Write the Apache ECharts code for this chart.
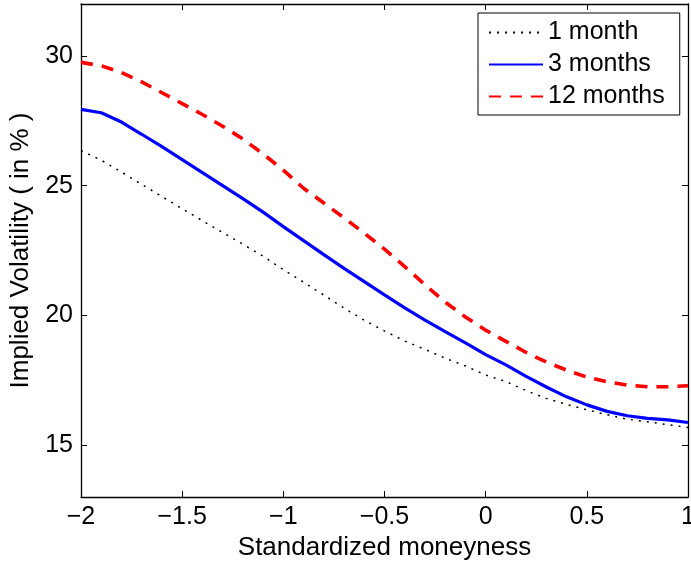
<!DOCTYPE html>
<html>
<head>
<meta charset="utf-8">
<script src="https://cdn.jsdelivr.net/npm/echarts@6/dist/echarts.min.js"></script>
<style>
  html, body { margin: 0; padding: 0; background: #fff; }
  #chart { width: 691px; height: 561px; }
</style>
</head>
<body>
<div id="chart"></div>
<script>
// moneyness grid (x)
const moneyness = [-2, -1.9, -1.8, -1.7, -1.6, -1.5, -1.4, -1.3, -1.2, -1.1, -1, -0.9, -0.8, -0.7, -0.6, -0.5, -0.4, -0.3, -0.2, -0.1, 0, 0.1, 0.2, 0.3, 0.4, 0.5, 0.6, 0.7, 0.8, 0.9, 1]

// implied vol (%)
const vol1m = [26.35, 25.98, 25.52, 25.05, 24.58, 24.11, 23.65, 23.19, 22.74, 22.28, 21.76, 21.28, 20.78, 20.28, 19.81, 19.4, 19.01, 18.69, 18.35, 18.05, 17.7, 17.45, 17.1, 16.8, 16.57, 16.36, 16.17, 16.0, 15.9, 15.79, 15.68]
const vol3m = [27.94, 27.81, 27.45, 26.98, 26.5, 26.0, 25.5, 25.0, 24.5, 23.98, 23.42, 22.88, 22.34, 21.81, 21.3, 20.79, 20.29, 19.82, 19.37, 18.94, 18.49, 18.09, 17.65, 17.24, 16.86, 16.55, 16.3, 16.13, 16.03, 15.97, 15.87]
const vol12m = [29.75, 29.62, 29.36, 29.0, 28.58, 28.16, 27.74, 27.29, 26.8, 26.22, 25.6, 24.9, 24.33, 23.76, 23.17, 22.55, 21.88, 21.18, 20.51, 19.94, 19.43, 19.0, 18.57, 18.2, 17.89, 17.62, 17.44, 17.31, 17.25, 17.25, 17.29]

const seriesNames = ['1 month', '3 months', '12 months']
const yTicks = [15, 20, 25, 30]

const FONT = 'Liberation Sans, Arial, Helvetica, sans-serif'

const pairs = (ys) => moneyness.map((x, i) => [x, ys[i]])
const fmtX = (v) => (v < 0 ? '\u2212' + Math.abs(v) : String(v))

const axisLine = { show: true, onZero: false, lineStyle: { color: '#000', width: 1.3 } }
const tick = { show: true, inside: true, length: 6, lineStyle: { color: '#000', width: 1 } }
// hide the little circle ECharts puts on line legend icons
const noDot = { color: 'rgba(0,0,0,0)', borderWidth: 0 }

const chart = echarts.init(document.getElementById('chart'), null, { renderer: 'canvas' })

chart.setOption({
  animation: false,
  backgroundColor: '#fff',
  grid: { left: 81, top: 4, width: 607, height: 493, containLabel: false, outerBoundsMode: 'none' },
  legend: {
    orient: 'vertical',
    left: 478,
    top: 13,
    data: seriesNames,
    itemWidth: 54,
    itemHeight: 14,
    itemGap: 7,
    padding: [7, 15, 6, 10],
    borderColor: '#000',
    borderWidth: 1,
    backgroundColor: '#fff',
    textStyle: { fontFamily: FONT, fontSize: 25, color: '#000' }
  },
  xAxis: [
    {
      type: 'value', min: -2, max: 1, interval: 0.5,
      name: 'Standardized moneyness', nameLocation: 'middle', nameGap: 35,
      nameTextStyle: { fontFamily: FONT, fontSize: 26, color: '#000' },
      axisLine, axisTick: tick,
      axisLabel: { fontFamily: FONT, fontSize: 25, color: '#000', margin: 8, formatter: fmtX },
      splitLine: { show: false }
    },
    {
      type: 'value', min: -2, max: 1, interval: 0.5, position: 'top',
      axisLine, axisTick: tick, axisLabel: { show: false }, splitLine: { show: false }
    }
  ],
  yAxis: [
    {
      type: 'value', min: 13, max: 32,
      name: 'Implied Volatility ( in % )', nameLocation: 'middle', nameGap: 44,
      nameTextStyle: { fontFamily: FONT, fontSize: 26, color: '#000' },
      axisLine,
      axisTick: Object.assign({ customValues: yTicks }, tick),
      axisLabel: { fontFamily: FONT, fontSize: 25, color: '#000', margin: 8, customValues: yTicks },
      splitLine: { show: false }
    },
    {
      type: 'value', min: 13, max: 32, position: 'right',
      axisLine,
      axisTick: Object.assign({ customValues: yTicks }, tick),
      axisLabel: { show: false, customValues: yTicks },
      splitLine: { show: false }
    }
  ],
  series: [
    {
      name: seriesNames[0], type: 'line', data: pairs(vol1m),
      symbol: 'none', z: 2,
      lineStyle: { color: '#000', width: 1.5, type: [2, 6] },
      itemStyle: noDot
    },
    {
      name: seriesNames[1], type: 'line', data: pairs(vol3m),
      symbol: 'none', z: 3,
      lineStyle: { color: '#0000ff', width: 3.2, type: 'solid' },
      itemStyle: noDot
    },
    {
      name: seriesNames[2], type: 'line', data: pairs(vol12m),
      symbol: 'none', z: 4,
      lineStyle: { color: '#ff0000', width: 3.6, type: [12, 9] },
      itemStyle: noDot
    }
  ]
})
</script>
</body>
</html>
